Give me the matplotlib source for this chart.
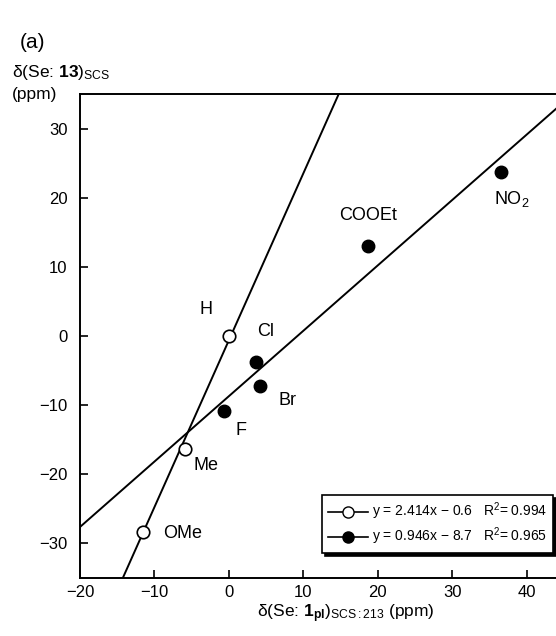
import matplotlib
matplotlib.use("Agg")
import matplotlib.pyplot as plt
import numpy as np

plt.rcParams['font.family'] = ['Liberation Sans', 'DejaVu Sans']
plt.rcParams['mathtext.fontset'] = 'custom'
plt.rcParams['mathtext.rm'] = 'Liberation Sans'
plt.rcParams['mathtext.it'] = 'Liberation Sans:italic'
plt.rcParams['mathtext.bf'] = 'Liberation Sans:bold'

# open circles (fit 1)
open_labels = ["H", "Me", "OMe"]
open_x = [0.0, -5.9, -11.5]
open_y = [0.0, -16.4, -28.3]

# filled circles (fit 2)
filled_labels = ["Cl", "Br", "F", "COOEt", "NO$_2$"]
filled_x = [3.7, 4.2, -0.7, 18.7, 36.6]
filled_y = [-3.8, -7.3, -10.8, 13.0, 23.7]

# regression lines: slope, intercept, R^2
open_fit = (2.414, -0.6, 0.994)
filled_fit = (0.946, -8.7, 0.965)

# label offsets in pixels (display only)
offsets = {"H": (-23, 26), "Me": (21, -16), "OMe": (39, -2),
           "Cl": (9, 31), "Br": (27, -14), "F": (17, -20),
           "COOEt": (0, 31), "NO$_2$": (10, -27)}

fig = plt.figure(figsize=(5.56, 6.36), dpi=100)
ax = fig.add_axes([80 / 556, 1 - 578 / 636, 484 / 556, 484 / 636])
ax.set_xlim(-20, 45)
ax.set_ylim(-35, 35)

xx = np.array([-20, 45])
s, b, r2 = open_fit
ax.plot(xx, s * xx + b, color='k', lw=1.4)
s2, b2, r22 = filled_fit
ax.plot(xx, s2 * xx + b2, color='k', lw=1.4)

ax.plot(open_x, open_y, 'o', mfc='white', mec='k', ms=9, mew=1.2, zorder=3)
ax.plot(filled_x, filled_y, 'o', color='k', ms=9, zorder=3)

for lab, x, y in zip(open_labels + filled_labels, open_x + filled_x, open_y + filled_y):
    ax.annotate(lab, (x, y), xytext=offsets[lab], textcoords='offset pixels',
                ha='center', va='center', fontsize=13)

# legend handles
h1 = plt.Line2D([], [], color='k', lw=1.2, marker='o', mfc='white', mec='k', ms=8)
h2 = plt.Line2D([], [], color='k', lw=1.2, marker='o', mfc='k', mec='k', ms=8)
lab1 = "y = %.3fx − %.1f   R$^2$= %.3f" % (s, -b, r2)
lab2 = "y = %.3fx − %.1f   R$^2$= %.3f" % (s2, -b2, r22)
leg = ax.legend([h1, h2], [lab1, lab2], loc='lower right',
                bbox_to_anchor=(553 / 556, 1 - 553 / 636), bbox_transform=fig.transFigure,
                borderaxespad=0, fancybox=False, edgecolor='k', framealpha=1,
                shadow={'color': 'k', 'alpha': 1}, handlelength=2.9, handletextpad=0.3,
                borderpad=0.4, labelspacing=0.25, prop={'size': 10})
leg.get_frame().set_linewidth(1.2)

ax.set_xticks([-20, -10, 0, 10, 20, 30, 40])
ax.set_yticks([-30, -20, -10, 0, 10, 20, 30])
ax.tick_params(direction='in', length=6, width=1.2, labelsize=12)
ax.tick_params(axis='x', pad=5)
ax.tick_params(axis='y', pad=9)
for sp in ax.spines.values():
    sp.set_linewidth(1.4)
ax.spines['right'].set_visible(False)

fig.text(20 / 556, 1 - 42 / 636, "(a)", fontsize=15, va='center')
fig.text(12 / 556, 1 - 72 / 636, r"δ(Se: $\mathbf{13}$)$_{\mathrm{SCS}}$", fontsize=12.5, va='center')
fig.text(12 / 556, 1 - 94 / 636, "(ppm)", fontsize=12.5, va='center')
fig.text(346 / 556, 1 - 614 / 636, r"δ(Se: $\mathbf{1_{pl}}$)$_{\mathrm{SCS:213}}$ (ppm)",
         fontsize=12.5, ha='center', va='center')

fig.savefig("out.png", dpi=100)
